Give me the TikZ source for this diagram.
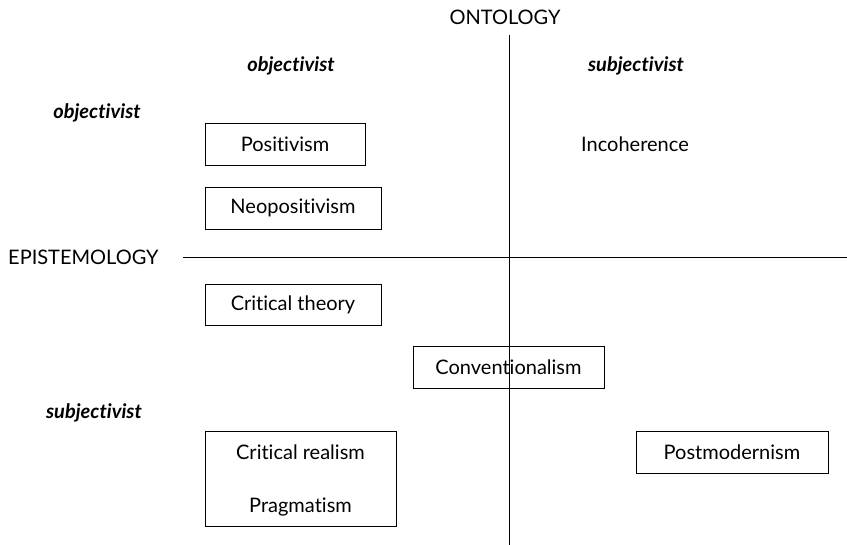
\documentclass[tikz,border=0pt]{standalone}
\usepackage{fontspec}
\setmainfont{Lato}[Ligatures=NoCommon]
\begin{document}
\begin{tikzpicture}[x=1pt,y=-1pt,
  every node/.style={font=\fontsize{20}{24}\selectfont, inner sep=0pt},
  catbox/.style={draw, line width=0.9pt, minimum height=42pt},
  heading/.style={font=\fontsize{20}{24}\selectfont\bfseries\itshape},
  axis/.style={line width=0.9pt}]
\useasboundingbox (0,0) rectangle (847,545);
% axes
\coordinate (ontTop) at (509,35);
\coordinate (ontBot) at (509,545);
\coordinate (epiL) at (183,257);
\coordinate (epiR) at (847,257);
\draw[axis] (ontTop) -- (ontBot);
\draw[axis] (epiL) -- (epiR);
\node (ont) at (505,17) {ONTOLOGY};
\node[anchor=west] (epi) at (8,257) {EPISTEMOLOGY};
% headings
\node[heading] (colObj) at (291,66) {objectivist};
\node[heading] (colSubj) at (636,66) {subjectivist};
\node[heading] (rowObj) at (97,113) {objectivist};
\node[heading] (rowSubj) at (94,413) {subjectivist};
% positions
\node[catbox, minimum width=160pt] (pos) at (285,144) {Positivism};
\node (inc) at (635,144) {Incoherence};
\node[catbox, minimum width=176pt] (neo) at (293,208) {Neopositivism};
\node[catbox, minimum width=176pt, minimum height=41pt] (crit) at (293,304.5) {Critical theory};
\node[catbox, minimum width=191pt] (conv) at (508.5,367) {Conventionalism};
\node[catbox, minimum width=191pt, minimum height=95pt] (crp) at (300.5,478.5) {};
\node (cr) at (300.5,452) {Critical realism};
\node (prag) at (300.5,507) {Pragmatism};
\node[catbox, minimum width=192pt] (post) at (732,452) {Postmodernism};
\end{tikzpicture}
\end{document}
